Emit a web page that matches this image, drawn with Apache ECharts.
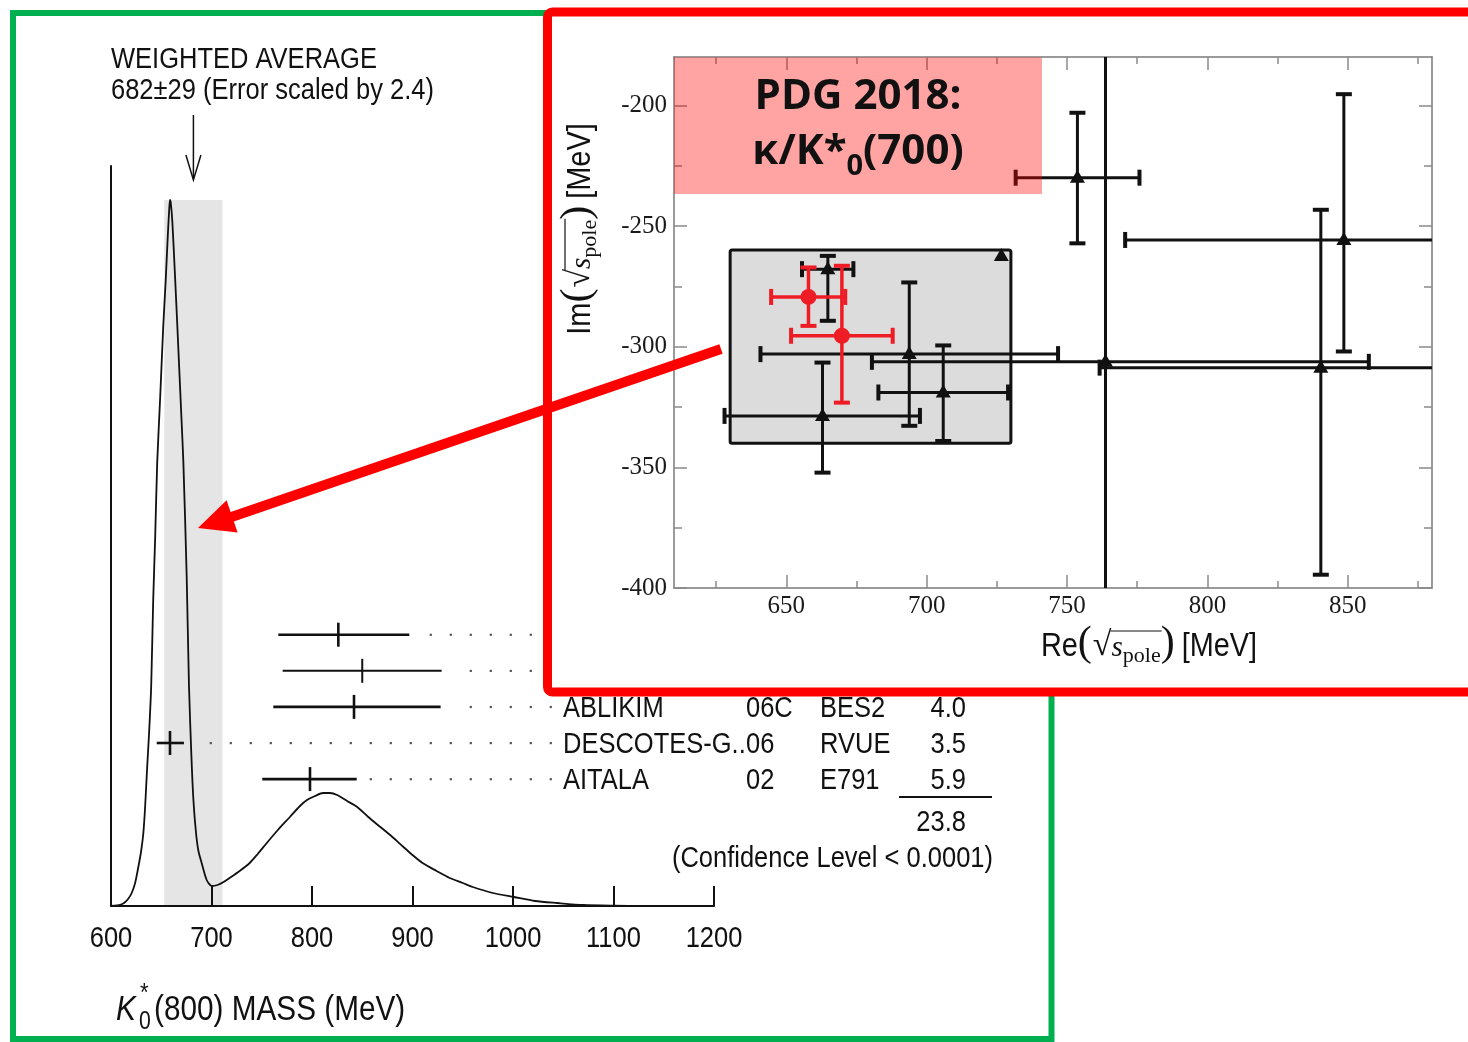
<!DOCTYPE html>
<html>
<head>
<meta charset="utf-8">
<script src="https://cdn.jsdelivr.net/npm/echarts@6/dist/echarts.min.js"></script>
<style>
  html, body { margin: 0; padding: 0; background: #fff; }
  #main { width: 1468px; height: 1042px; }
</style>
</head>
<body>
<div id="main"></div>
<script>
// ---------- K*0(800) mass ideogram (left panel) ----------
const massMeV = [600, 606, 610, 613, 617, 620.6, 624, 627.2, 630, 632.2, 634, 636, 638, 640, 642, 644, 646, 649, 652, 654.4, 656.5, 658, 658.7, 659.5, 661, 663.7, 666, 668, 670, 672, 675.3, 677.6, 680, 682, 684.6, 687, 690.2, 695.2, 700.2, 706, 712, 718, 728, 738, 746, 755, 766, 778, 788, 795, 803, 811, 818, 825, 835, 845, 856, 868, 880, 891, 900, 910, 924, 937, 950, 960, 980, 1001, 1022, 1044, 1070, 1100, 1130, 1200];
const ideogram = [0, 0.5, 1.5, 3, 7, 13, 23, 39, 55, 73, 100, 139, 175, 220, 306, 370, 444, 510, 580, 625, 670, 698, 706, 703, 685, 630, 580, 535, 490, 444, 330, 220, 150, 106, 73, 55, 43, 26, 20, 21, 24, 28, 35, 43, 52, 63, 76, 89, 100, 106, 110, 113, 113, 111, 105, 99, 89, 79, 69, 59, 51, 43, 35, 28, 23, 19, 13, 9, 5, 3, 1, 0.3, 0, 0];
const massTicks = [600, 700, 800, 900, 1000, 1100, 1200];

const avgMass = 682;
const avgErr = 29;
const errScale = 2.4;

// individual measurements (central value, lower edge, upper edge)
const measVal = [826.2, 850.0, 841.8, 658.7, 798.0];
const measLo = [766.5, 770.8, 761.5, 645.5, 750.5];
const measHi = [896.8, 929.0, 928.0, 672.6, 844.5];

// listing rows shown next to the last three measurements
const tableNames = ['ABLIKIM', 'DESCOTES-G..', 'AITALA'];
const tableYears = ['06C', '06', '02'];
const tableExps = ['BES2', 'RVUE', 'E791'];
const tableChi2 = ['4.0', '3.5', '5.9'];
const chi2Total = '23.8';
const confLevel = '(Confidence Level < 0.0001)';

// ---------- kappa pole positions (right panel) ----------
const poleRe   = [726.6, 664.8, 693.8, 705.9, 662.9, 753.7, 848.6, 763.7, 840.4, 657.9, 669.8];
const poleReLo = [726.6, 655.6, 640.8, 682.8, 628.0, 731.7, 770.7, 680.5, 761.6, 644.6, 651.7];
const poleReHi = [726.6, 673.9, 746.8, 729.0, 697.6, 775.8, 930.0, 857.5, 930.0, 671.0, 687.9];
const poleIm   = [-262.4, -267.9, -303.1, -319.0, -328.7, -230.0, -255.8, -306.3, -308.7, -279.4, -295.5];
const poleImLo = [-262.4, -289.3, -332.8, -339.1, -352.2, -257.2, -302.0, -460.0, -394.5, -291.4, -323.2];
const poleImHi = [-262.4, -262.4, -273.4, -299.5, -306.6, -203.1, -195.4, -150.0, -243.3, -267.2, -266.5];
const poleSet  = [0, 0, 0, 0, 0, 0, 0, 0, 0, 1, 1];   // 0: other analyses, 1: dispersive determinations

const insetRe = [630, 730];
const insetIm = [-340, -260];

const reMajor = [650, 700, 750, 800, 850];
const reMinor = [625, 675, 725, 775, 825, 875];
const imMajor = [-400, -350, -300, -250, -200];
const imMinor = [-375, -325, -275, -225];

// ---------- fonts & helpers ----------
const SANS = '"Liberation Sans", Arial, sans-serif';
const NARROW_X = 0.85;               // horizontal squeeze for the condensed listing face
const SERIF = '"Liberation Serif", "DejaVu Serif", serif';
const BOLD = '"Open Sans", "Noto Sans", sans-serif';
const RED = '#ee1c25';
const INK = '#111';

const measureCtx = document.createElement('canvas').getContext('2d');
function pieceFont(p) {
  return (p.i ? 'italic ' : 'normal ') + (p.w || 'normal') + ' ' + p.s + 'px ' + p.f;
}
function pieceWidth(p) {
  measureCtx.font = pieceFont(p);
  return measureCtx.measureText(p.t).width * (p.sx || 1);
}
// narrow sans piece
function N(t, s, extra) {
  return Object.assign({ t: t, f: SANS, s: s, sx: NARROW_X }, extra || {});
}
// Lays out text pieces along one baseline; returns graphic elements.
function textRun(pieces, x, baseline, anchor, z, barOffset) {
  const widths = pieces.map(pieceWidth);
  let total = 0;
  pieces.forEach((p, i) => { total += widths[i] + (p.gap || 0); });
  let cx = anchor === 'center' ? x - total / 2 : anchor === 'right' ? x - total : x;
  const els = [];
  let barL = null, barR = null;
  pieces.forEach((p, i) => {
    els.push({
      type: 'text', z: z, silent: true,
      x: cx, y: baseline + (p.dy || 0) - 0.34 * p.s, scaleX: p.sx || 1,
      style: {
        text: p.t, x: 0, y: 0,
        fontSize: p.s, fontFamily: p.f, fontStyle: p.i ? 'italic' : 'normal', fontWeight: p.w || 'normal',
        fill: p.c || INK, textAlign: 'left', textVerticalAlign: 'middle', align: 'left', verticalAlign: 'middle'
      }
    });
    if (p.bar) {
      if (barL === null) barL = cx - 1;
      barR = cx + widths[i] + 1;
    }
    cx += widths[i] + (p.gap || 0);
  });
  if (barL !== null) {
    els.push({ type: 'line', z: z, silent: true,
      shape: { x1: barL, y1: baseline + barOffset, x2: barR, y2: baseline + barOffset },
      style: { stroke: INK, lineWidth: 1.2 } });
  }
  return els;
}

const chart = echarts.init(document.getElementById('main'), null, { renderer: 'canvas', width: 1468, height: 1042 });

const peakHeight = Math.max.apply(null, ideogram);
const ROW_TOP = 634.7, ROW_STEP = 36.1;

const rightTickStyle = { color: '#8a8a8a', width: 1.5 };
const rightLine = { show: true, lineStyle: { color: '#7a7a7a', width: 1.5 } };
const plainNumber = v => String(v);

function minorX(position) {
  return { gridIndex: 1, type: 'value', min: 610, max: 880, position: position, z: 20,
    axisLine: { show: false }, axisLabel: { show: false }, splitLine: { show: false },
    axisTick: { show: true, inside: true, length: 7, customValues: reMinor, lineStyle: rightTickStyle } };
}
function minorY(position) {
  return { gridIndex: 1, type: 'value', min: -400, max: -180, position: position, z: 20,
    axisLine: { show: false }, axisLabel: { show: false }, splitLine: { show: false },
    axisTick: { show: true, inside: true, length: 8, customValues: imMinor, lineStyle: rightTickStyle } };
}

const option = {
  animation: false,
  backgroundColor: '#fff',
  grid: [
    { left: 111, top: 166, width: 603, height: 740 },
    { left: 674, top: 57, width: 758, height: 531 }
  ],
  xAxis: [
    { gridIndex: 0, type: 'value', min: 600, max: 1200, interval: 100, z: 3,
      axisLine: { show: true, lineStyle: { color: INK, width: 2 } },
      axisTick: { show: true, inside: true, length: 20, lineStyle: { color: INK, width: 2 } },
      axisLabel: { show: false },
      splitLine: { show: false } },
    { gridIndex: 1, type: 'value', min: 610, max: 880, position: 'bottom', z: 20,
      axisLine: rightLine,
      axisTick: { show: true, inside: true, length: 13, customValues: reMajor, lineStyle: rightTickStyle },
      axisLabel: { customValues: reMajor, formatter: plainNumber, fontFamily: SERIF, fontSize: 25, color: '#1a1a1a', margin: 6 },
      splitLine: { show: false } },
    minorX('bottom'),
    { gridIndex: 1, type: 'value', min: 610, max: 880, position: 'top', z: 20,
      axisLine: rightLine, axisLabel: { show: false }, splitLine: { show: false },
      axisTick: { show: true, inside: true, length: 13, customValues: reMajor, lineStyle: rightTickStyle } },
    minorX('top')
  ],
  yAxis: [
    { gridIndex: 0, type: 'value', min: 0, max: 740, z: 3,
      axisLine: { show: true, lineStyle: { color: INK, width: 2 } },
      axisTick: { show: false }, axisLabel: { show: false }, splitLine: { show: false } },
    { gridIndex: 1, type: 'value', min: -400, max: -180, position: 'left', z: 20,
      axisLine: rightLine,
      axisTick: { show: true, inside: true, length: 13, customValues: imMajor, lineStyle: rightTickStyle },
      axisLabel: { customValues: imMajor, formatter: plainNumber, fontFamily: SERIF, fontSize: 25, color: '#1a1a1a', margin: 7 },
      splitLine: { show: false } },
    minorY('left'),
    { gridIndex: 1, type: 'value', min: -400, max: -180, position: 'right', z: 20,
      axisLine: rightLine, axisLabel: { show: false }, splitLine: { show: false },
      axisTick: { show: true, inside: true, length: 13, customValues: imMajor, lineStyle: rightTickStyle } },
    minorY('right')
  ],
  series: [
    {
      type: 'line', xAxisIndex: 0, yAxisIndex: 0, z: 3,
      data: massMeV.map((m, i) => [m, ideogram[i]]),
      symbol: 'none', smooth: 0.25,
      lineStyle: { color: INK, width: 1.8 },
      markArea: {
        silent: true,
        itemStyle: { color: '#e5e5e5' },
        data: [[{ xAxis: avgMass - avgErr, yAxis: 0 }, { xAxis: avgMass + avgErr, yAxis: peakHeight }]]
      }
    },
    {
      type: 'custom', xAxisIndex: 0, yAxisIndex: 0, z: 4,
      data: measVal.map((v, i) => [v, measLo[i], measHi[i], i]),
      renderItem: function (params, api) {
        const row = api.value(3);
        const y = ROW_TOP + row * ROW_STEP;
        const xv = api.coord([api.value(0), 0])[0];
        const xl = api.coord([api.value(1), 0])[0];
        const xh = api.coord([api.value(2), 0])[0];
        const st = { stroke: INK, lineWidth: row === 1 ? 2 : 2.6 };
        const children = [
          { type: 'line', shape: { x1: xl, y1: y, x2: xh, y2: y }, style: st },
          { type: 'line', shape: { x1: xv, y1: y - 12, x2: xv, y2: y + 12 }, style: st }
        ];
        // dotted leader to the listing
        let dx = 210.7 + 20 * Math.ceil((xh + 12 - 210.7) / 20);
        for (; dx <= 552; dx += 20) {
          children.push({ type: 'rect', shape: { x: dx - 1, y: y - 1, width: 2.2, height: 2.2 }, style: { fill: '#555' } });
        }
        return { type: 'group', children: children };
      }
    },
    {
      type: 'custom', xAxisIndex: 1, yAxisIndex: 1, z: 21, clip: true,
      data: [[insetRe[0], insetRe[1], insetIm[0], insetIm[1]]],
      renderItem: function (params, api) {
        const p0 = api.coord([api.value(0), api.value(3)]);
        const p1 = api.coord([api.value(1), api.value(2)]);
        return { type: 'rect', shape: { x: p0[0], y: p0[1], width: p1[0] - p0[0], height: p1[1] - p0[1], r: 2 },
          style: { fill: '#dcdcdc', stroke: INK, lineWidth: 3 } };
      }
    },
    {
      type: 'custom', xAxisIndex: 1, yAxisIndex: 1, z: 22, clip: true,
      data: poleRe.map((v, i) => [v, poleReLo[i], poleReHi[i], poleIm[i], poleImLo[i], poleImHi[i], poleSet[i]]),
      renderItem: function (params, api) {
        const re = api.value(0), reLo = api.value(1), reHi = api.value(2);
        const im = api.value(3), imLo = api.value(4), imHi = api.value(5);
        const red = api.value(6) === 1;
        const color = red ? RED : INK;
        const c = api.coord([re, im]);
        const l = api.coord([reLo, im]), r = api.coord([reHi, im]);
        const t = api.coord([re, imHi]), b = api.coord([re, imLo]);
        const st = { stroke: color, lineWidth: red ? 3.5 : 3 };
        const capSt = { stroke: color, lineWidth: 4 };
        const cap = 8;
        const ch = [];
        if (reHi > reLo) {
          ch.push({ type: 'line', shape: { x1: l[0], y1: l[1], x2: r[0], y2: r[1] }, style: st });
          ch.push({ type: 'line', shape: { x1: l[0], y1: l[1] - cap, x2: l[0], y2: l[1] + cap }, style: capSt });
          ch.push({ type: 'line', shape: { x1: r[0], y1: r[1] - cap, x2: r[0], y2: r[1] + cap }, style: capSt });
        }
        if (imHi > imLo) {
          ch.push({ type: 'line', shape: { x1: t[0], y1: t[1], x2: b[0], y2: b[1] }, style: st });
          ch.push({ type: 'line', shape: { x1: t[0] - cap, y1: t[1], x2: t[0] + cap, y2: t[1] }, style: capSt });
          ch.push({ type: 'line', shape: { x1: b[0] - cap, y1: b[1], x2: b[0] + cap, y2: b[1] }, style: capSt });
        }
        if (red) {
          ch.push({ type: 'circle', shape: { cx: c[0], cy: c[1], r: 8 }, style: { fill: RED } });
        } else {
          ch.push({ type: 'polygon', shape: { points: [[c[0], c[1] - 8], [c[0] - 7.5, c[1] + 5], [c[0] + 7.5, c[1] + 5]] },
            style: { fill: INK } });
        }
        return { type: 'group', children: ch };
      }
    }
  ]
};

chart.setOption(option);

// ---------- annotations ----------
const avgX = chart.convertToPixel({ xAxisIndex: 0 }, avgMass);
const g = [];

// frame of the mass panel
g.push({ type: 'rect', z: 0, silent: true, shape: { x: 13, y: 13, width: 1038.5, height: 1026 },
  style: { fill: 'none', stroke: '#00b050', lineWidth: 6 } });

// mass tick labels, placed through the axis scale
massTicks.forEach(v => {
  const px = chart.convertToPixel({ xAxisIndex: 0 }, v);
  g.push(...textRun([N(String(v), 30)], px, 949, 'center', 5));
});

// weighted average caption and arrow
g.push(...textRun([N('WEIGHTED AVERAGE', 30)], 111, 70, 'left', 5));
g.push(...textRun([N(avgMass + '\u00b1' + avgErr + ' (Error scaled by ' + errScale + ')', 30)], 111, 101, 'left', 5));
g.push({ type: 'polyline', z: 5, silent: true, shape: { points: [[avgX, 115], [avgX, 179]] }, style: { stroke: INK, lineWidth: 1.5, fill: 'none' } });
g.push({ type: 'polyline', z: 5, silent: true, shape: { points: [[avgX - 7.5, 155], [avgX, 180], [avgX + 7.5, 155]] }, style: { stroke: INK, lineWidth: 1.5, fill: 'none' } });

// listing
tableNames.forEach((name, i) => {
  const base = ROW_TOP + (i + 2) * ROW_STEP + 12;
  g.push(...textRun([N(name, 30)], 563, base, 'left', 5));
  g.push(...textRun([N(tableYears[i], 30)], 746, base, 'left', 5));
  g.push(...textRun([N(tableExps[i], 30)], 820, base, 'left', 5));
  g.push(...textRun([N(tableChi2[i], 30)], 966, base, 'right', 5));
});
g.push({ type: 'line', z: 5, silent: true, shape: { x1: 899, y1: 797, x2: 992, y2: 797 }, style: { stroke: INK, lineWidth: 2 } });
g.push(...textRun([N(chi2Total, 30)], 966, 833, 'right', 5));
g.push(...textRun([N(confLevel, 30)], 993, 869, 'right', 5));

// mass axis title: K*0(800) MASS (MeV)
g.push(...textRun([N('K', 35, { i: true })], 116, 1022, 'left', 5));
g.push(...textRun([N('*', 26)], 140, 1003, 'left', 5));
g.push(...textRun([N('0', 25)], 139, 1031, 'left', 5));
g.push(...textRun([N('(800) MASS (MeV)', 35)], 154, 1022, 'left', 5));

// pole-position panel frame
g.push({ type: 'rect', z: 10, silent: true, shape: { x: 547.5, y: 12, width: 1000, height: 680, r: 5 },
  style: { fill: '#fff', stroke: '#ff0000', lineWidth: 9 } });

// axis titles of the pole panel
function poleTitle(head) {
  return [
    N(head, 34),
    { t: '(', f: SERIF, s: 42, gap: 1 },
    { t: '\u221a', f: SERIF, s: 34 },
    { t: 's', f: SERIF, s: 29, i: true, bar: true },
    { t: 'pole', f: SERIF, s: 22, dy: 6, bar: true },
    { t: ')', f: SERIF, s: 42, gap: 7 },
    N('[MeV]', 34)
  ];
}
g.push(...textRun(poleTitle('Re'), 1149, 658, 'center', 25, -27));
g.push({ type: 'group', x: 592, y: 229, rotation: Math.PI / 2, z: 25,
  children: textRun(poleTitle('Im'), 0, 0, 'center', 25, -27) });

// PDG 2018 label
g.push({ type: 'rect', z: 30, silent: true, shape: { x: 674, y: 57.5, width: 368, height: 136.5 },
  style: { fill: 'rgba(255,0,0,0.36)' } });
g.push(...textRun([{ t: 'PDG 2018:', f: BOLD, s: 42, w: 'bold' }], 858, 111.5, 'center', 31));
g.push(...textRun([
  { t: '\u03ba/K*', f: BOLD, s: 42, w: 'bold' },
  { t: '0', f: BOLD, s: 29, w: 'bold', dy: 10 },
  { t: '(700)', f: BOLD, s: 42, w: 'bold' }
], 858, 166.5, 'center', 31));

// pointer from the pole panel to the peak
g.push({ type: 'line', z: 40, silent: true, shape: { x1: 721, y1: 349, x2: 230, y2: 517.5 },
  style: { stroke: '#ff0000', lineWidth: 10 } });
g.push({ type: 'polygon', z: 40, silent: true, shape: { points: [[198, 528], [226.6, 500.2], [237.6, 532.4]] },
  style: { fill: '#ff0000' } });

chart.setOption({ graphic: { elements: g } });
</script>
</body>
</html>
